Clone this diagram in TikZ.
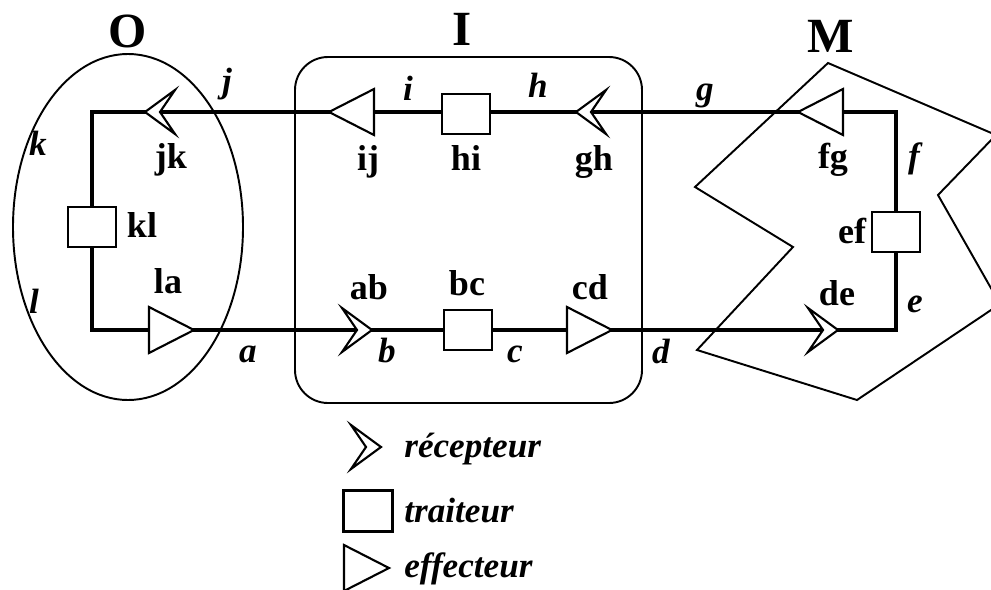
\documentclass[tikz,border=0pt]{standalone}
\usepackage{fontspec}
\setmainfont{Liberation Serif}
\tikzset{
  elem/.style={line width=1.2pt, fill=white, line join=miter},
  recep/.pic={\draw[elem] (-15,-22) -- (15,0) -- (-15,22) -- (0,0) -- cycle;},
  effect/.pic={\draw[elem] (-22,-23) -- (23,0) -- (-22,23) -- cycle;},
  trait/.style={draw, line width=1.2pt, fill=white, minimum width=0.96cm,
    minimum height=0.8cm, inner sep=0pt},
  circuit/.style={line width=2.8pt},
  zone/.style={line width=1.1pt},
  title/.style={font=\fontsize{28}{28}\selectfont\bfseries, anchor=base},
  lab/.style={font=\fontsize{20.5}{20.5}\selectfont\bfseries, anchor=base},
  var/.style={font=\fontsize{20}{20}\selectfont\bfseries\itshape, anchor=base},
  leg/.style={font=\fontsize{20}{20}\selectfont\bfseries\itshape, anchor=base west,
    inner sep=0pt}
}
\begin{document}
\begin{tikzpicture}[x=0.02cm, y=-0.02cm]
  \useasboundingbox (0,0) rectangle (991,589);
  \clip (0,0) rectangle (991,589);

  % corners of the circuit
  \coordinate (tl) at (92,112);
  \coordinate (tr) at (896,112);
  \coordinate (br) at (896,330);
  \coordinate (bl) at (92,330);

  % elements on the circuit
  \coordinate (la) at (171,330);
  \coordinate (ab) at (357,330);
  \coordinate (cd) at (589,330);
  \coordinate (de) at (823,330);
  \coordinate (fg) at (821,112);
  \coordinate (gh) at (591,112);
  \coordinate (ij) at (352,112);
  \coordinate (jk) at (160,112);

  % zones O, I, M
  \draw[zone] (128,227) ellipse (115 and 173);
  \draw[zone, rounded corners=0.66cm] (295,57) rectangle (642,403);
  \draw[zone] (828,63) -- (996,135) -- (938,195) -- (1000,304) -- (857,400)
    -- (697,350) -- (793,247) -- (695,187) -- cycle;

  \node[title] (O) at (128,47) {O};
  \node[title] (I) at (462,45) {I};
  \node[title] (M) at (831,52) {M};

  \draw[circuit] (bl) -- (br) -- (tr) -- (tl) -- cycle;

  \pic at (la) {effect};
  \pic at (ab) {recep};
  \pic at (cd) {effect};
  \pic at (de) {recep};
  \pic[rotate=180] at (fg) {effect};
  \pic[rotate=180] at (gh) {recep};
  \pic[rotate=180] at (ij) {effect};
  \pic[rotate=180] at (jk) {recep};

  \node[trait] (kl) at (92,227) {};
  \node[trait] (hi) at (466,114) {};
  \node[trait] (bc) at (468,330) {};
  \node[trait] (ef) at (896,232) {};

  % element names
  \node[lab] (Ljk) at (171,168) {jk};
  \node[lab] (Lkl) at (142,237) {kl};
  \node[lab] (Lla) at (168,293) {la};
  \node[lab] (Lij) at (368,170) {ij};
  \node[lab] (Lhi) at (466,170) {hi};
  \node[lab] (Lgh) at (594,170) {gh};
  \node[lab] (Lab) at (369,299) {ab};
  \node[lab] (Lbc) at (467,295) {bc};
  \node[lab] (Lcd) at (590,299) {cd};
  \node[lab] (Lfg) at (833,168) {fg};
  \node[lab] (Lef) at (852,243) {ef};
  \node[lab] (Lde) at (837,305) {de};

  % signal names
  \node[var] (a) at (248,362) {a};
  \node[var] (b) at (387,362) {b};
  \node[var] (c) at (515,362) {c};
  \node[var] (d) at (661,363) {d};
  \node[var] (e) at (915,312) {e};
  \node[var] (f) at (914,167) {f};
  \node[var] (g) at (705,100) {g};
  \node[var] (h) at (538,97) {h};
  \node[var] (i) at (408,100) {i};
  \node[var] (j) at (227,92) {j};
  \node[var] (k) at (38,155) {k};
  \node[var] (l) at (34,313) {l};

  % legend
  \pic at (366,447) {recep};
  \node[trait, minimum width=0.98cm, minimum height=0.82cm] (legT) at (368,511) {};
  \pic at (366,568) {effect};
  \node[leg] (legR) at (404,457) {récepteur};
  \node[leg] (legTr) at (404,522) {traiteur};
  \node[leg] (legE) at (404,577) {effecteur};
\end{tikzpicture}
\end{document}
